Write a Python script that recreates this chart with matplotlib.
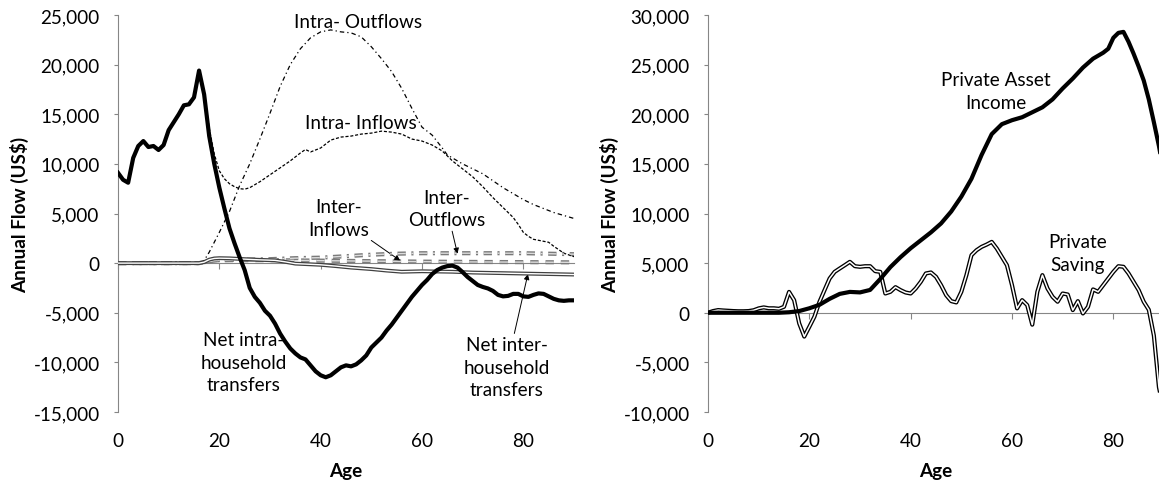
import matplotlib
matplotlib.use("Agg")
import matplotlib.pyplot as plt
from matplotlib.ticker import FuncFormatter, MultipleLocator

plt.rcParams['font.family'] = ['Lato', 'DejaVu Sans']
plt.rcParams['font.size'] = 13.6
plt.rcParams['lines.scale_dashes'] = False

# ---- left panel: intra / inter household transfers ----
net_intra_age = list(range(0, 91))
net_intra = [9100, 8400, 8100, 10600, 11800, 12300, 11700, 11800, 11400, 11900,
             13400, 14200, 15000, 15900, 16000, 16700, 19400, 17000, 12800, 10000,
             7600, 5500, 3500, 2000, 600, -700, -2500, -3400, -4000, -4800,
             -5300, -6100, -7100, -7900, -8600, -9100, -9500, -9700, -10300, -10900,
             -11300, -11500, -11300, -10900, -10500, -10300, -10400, -10200, -9800, -9300,
             -8500, -8000, -7500, -6800, -6200, -5500, -4800, -4100, -3400, -2800,
             -2200, -1700, -1100, -700, -450, -300, -250, -450, -900, -1400,
             -1800, -2200, -2400, -2550, -2800, -3200, -3350, -3300, -3100, -3100,
             -3350, -3400, -3200, -3050, -3100, -3350, -3600, -3750, -3800, -3750, -3750]

intra_out_age = [0, 16, 17, 18, 20, 22, 24, 26, 28, 30, 32, 34, 36, 38, 40, 42, 44, 46, 48,
                 50, 52, 54, 56, 58, 60, 62, 64, 65, 66, 68, 70, 72, 74, 76, 78, 80, 82,
                 84, 86, 88, 90]
intra_out = [0, 0, 270, 1100, 3100, 5200, 7800, 10000, 12500, 15100, 17800, 20000, 21600,
             22700, 23300, 23500, 23300, 23200, 22800, 21800, 20600, 19300, 17600, 15600,
             13700, 12900, 11600, 10900, 10600, 10000, 9500, 9000, 8300, 7600, 7000, 6400,
             5900, 5500, 5100, 4800, 4500]

intra_in_age = [16, 17, 18, 19, 20, 21, 22, 23, 24, 25, 26, 28, 30, 32, 34, 36, 37, 38, 40,
                42, 44, 46, 48, 50, 52, 54, 56, 58, 60, 62, 64, 66, 68, 70, 72, 74, 76,
                78, 79, 80, 81, 82, 84, 85, 86, 88, 90]
intra_in = [19400, 17300, 13600, 11000, 9300, 8500, 8000, 7700, 7500, 7450, 7600, 8200,
            8900, 9600, 10300, 11100, 11450, 11200, 11600, 12400, 12700, 12800, 13000,
            13100, 13300, 13200, 13000, 12500, 12300, 11900, 11300, 10300, 9500, 8700,
            7700, 6600, 5600, 4600, 3900, 3100, 2700, 2400, 2200, 2100, 1700, 1000, 650]

inter_in_age = [0, 16, 18, 20, 25, 30, 40, 50, 60, 70, 80, 90]
inter_in = [0, 0, 200, 300, 300, 300, 250, 200, 150, 120, 100, 80]

inter_out_age = [0, 16, 17, 20, 25, 30, 35, 40, 45, 50, 55, 60, 70, 80, 90]
inter_out = [0, 0, 100, 300, 350, 400, 500, 550, 700, 850, 950, 1000, 1000, 1000, 900]

net_inter_age = [0, 16, 17, 18, 19, 20, 22, 25, 28, 31, 33, 35, 38, 40, 43, 46, 50, 53, 56,
                 60, 66, 70, 75, 80, 85, 90]
net_inter = [0, 0, 100, 350, 470, 500, 480, 400, 330, 280, 130, -50, -120, -170, -300,
             -450, -600, -750, -870, -820, -870, -950, -1000, -1050, -1100, -1150]

# ---- right panel: private asset income / saving ----
asset_age = [0, 10, 14, 16, 18, 20, 22, 24, 26, 28, 30, 32, 34, 36, 38, 40, 42, 44, 46, 48,
             50, 52, 54, 56, 58, 60, 62, 64, 66, 68, 70, 72, 74, 76, 78, 79, 80, 81, 82,
             83, 84, 85, 86, 87, 88, 89, 90]
asset_income = [0, 0, 0, 50, 170, 450, 800, 1400, 1900, 2100, 2050, 2300, 3400, 4600, 5600,
                6500, 7300, 8100, 9000, 10200, 11700, 13500, 15900, 18000, 19000, 19400,
                19700, 20200, 20700, 21500, 22600, 23600, 24700, 25600, 26200, 26600,
                27700, 28200, 28300, 27300, 26100, 24800, 23400, 21500, 19200, 16800, 14000]

saving_age = list(range(0, 91))
saving = [0, 170, 270, 230, 200, 170, 150, 150, 170, 250,
          440, 540, 450, 450, 400, 600, 2100, 1270, -1070, -2400,
          -1410, -400, 1100, 2280, 3450, 4120, 4460, 4790, 5130, 4690,
          4630, 4690, 4690, 4190, 4120, 1940, 2110, 2580, 2280, 2040,
          1940, 2450, 3120, 3960, 4060, 3620, 2780, 1780, 1170, 1040,
          2110, 3790, 5800, 6300, 6640, 6870, 7140, 6470, 5630, 4790,
          2780, 440, 1270, 770, -1200, 2110, 3790, 2450, 1610, 1110,
          1940, 1840, 270, 1170, -70, 600, 2350, 2110, 2780, 3450,
          4120, 4690, 4630, 3960, 3120, 2280, 1110, 300, -2300, -7500, -10000]

grey = '#868686'
W, H = 1159, 485
fig = plt.figure(figsize=(W / 100, H / 100), dpi=100)
ax1 = fig.add_axes([118 / W, 72 / H, 456 / W, 397 / H])
ax2 = fig.add_axes([708 / W, 72 / H, 456 / W, 397 / H])

thousands = FuncFormatter(lambda v, p: f"{int(v):,}")


def style_axes(ax, ymin, ymax):
    ax.set_xlim(0, 90)
    ax.set_ylim(ymin, ymax)
    for s in ['top', 'right']:
        ax.spines[s].set_visible(False)
    ax.spines['left'].set_color(grey)
    ax.spines['bottom'].set_color(grey)
    ax.spines['bottom'].set_position(('data', 0))
    ax.spines['bottom'].set_zorder(1)
    ax.spines['left'].set_zorder(1)
    ax.yaxis.set_major_locator(MultipleLocator(5000))
    ax.yaxis.set_major_formatter(thousands)
    ax.tick_params(axis='y', direction='out', length=3.2, color=grey, pad=10, labelsize=13.6)
    ax.set_xticks([0, 20, 40, 60, 80])
    ax.tick_params(axis='x', direction='out', length=4.5, color=grey, labelbottom=False)
    # age labels sit under the plot area, not on the zero line
    sec = ax.secondary_xaxis('bottom')
    sec.spines['bottom'].set_visible(False)
    sec.set_xticks([0, 20, 40, 60, 80])
    sec.tick_params(length=0, pad=14.5, labelsize=13.6)
    sec.set_xlabel('Age', fontweight='bold', fontsize=13.6, labelpad=9)
    ax.set_ylabel('Annual Flow (US$)', fontweight='bold', fontsize=13.6)
    ax.yaxis.set_label_coords(-0.195, 0.5)


def double_line(ax, x, y, outer, lw_out=3.0, lw_in=1.1, z=4):
    ax.plot(x, y, color=outer, lw=lw_out, solid_capstyle='butt', zorder=z)
    ax.plot(x, y, color='white', lw=lw_in, solid_capstyle='butt', zorder=z + 0.1)


def hollow_dash(ax, x, y, dashes, z=3):
    ax.plot(x, y, color='#7a7a7a', lw=3.0, dashes=dashes, zorder=z)
    ax.plot(x, y, color='#dcdcdc', lw=1.0, dashes=dashes, zorder=z + 0.1)


style_axes(ax1, -15000, 25000)
style_axes(ax2, -10000, 30000)

# left panel lines
hollow_dash(ax1, inter_in_age, inter_in, (6, 5))
hollow_dash(ax1, inter_out_age, inter_out, (6, 4, 1.5, 4))
double_line(ax1, net_inter_age, net_inter, '#404040', lw_out=2.8, lw_in=1.0)
ax1.plot(intra_out_age, intra_out, color='black', lw=0.9, dashes=(3.2, 2.2, 0.9, 2.2), zorder=3)
ax1.plot(intra_in_age, intra_in, color='black', lw=0.9, dashes=(2.2, 1.3), zorder=3)
ax1.plot(net_intra_age, net_intra, color='black', lw=3.0, zorder=5)

txt = dict(ha='center', va='center', fontsize=13.6, linespacing=1.4)
arrow = dict(arrowstyle='-|>', color='black', lw=0.7, mutation_scale=8, shrinkA=0, shrinkB=0)
ax1.text(47.3, 24300, 'Intra- Outflows', **txt)
ax1.text(48, 14200, 'Intra- Inflows', **txt)
ax1.annotate('Inter-\nInflows', xy=(55.7, 250), xytext=(43.6, 4560), arrowprops=arrow, **txt)
ax1.annotate('Inter-\nOutflows', xy=(67, 950), xytext=(64.9, 5490), arrowprops=arrow, **txt)
ax1.text(24.8, -10000, 'Net intra-\nhousehold\ntransfers', **txt)
ax1.annotate('Net inter-\nhousehold\ntransfers', xy=(80.9, -1100), xytext=(76.7, -10500),
             arrowprops=arrow, **txt)

# right panel lines
double_line(ax2, saving_age, saving, 'black', lw_out=3.0, lw_in=1.1)
ax2.plot(asset_age, asset_income, color='black', lw=3.0, zorder=5)
ax2.text(56.8, 22360, 'Private Asset\nIncome', **txt)
ax2.text(73, 6050, 'Private\nSaving', **txt)

fig.savefig('out.png', dpi=100)
